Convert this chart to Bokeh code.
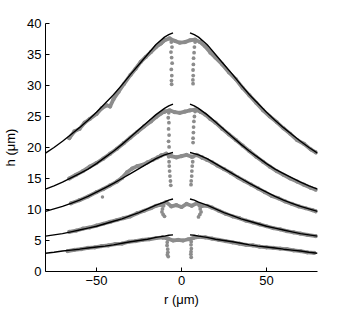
from bokeh.plotting import figure
from bokeh.embed import file_html
from bokeh.resources import INLINE
from bokeh.models import FixedTicker

# ---------------- data ----------------
x_ticks = [-50, 0, 50]
y_ticks = [0, 5, 10, 15, 20, 25, 30, 35, 40]
x_tick_labels = {-50: "\u221250", 0: "0", 50: "50"}

# fitted profiles (axisymmetric), r in µm, h in µm
r_fit = [5, 7.5, 10, 15, 20, 25, 30, 35, 40, 45, 50, 55, 60, 65, 70, 75, 80]
h_fit_5 = [38.5, 38.2, 37.8, 36.6, 35.0, 33.4, 31.8, 30.1, 28.5, 27.1, 25.7, 24.4, 23.2, 22.1, 21.0, 20.0, 19.1]
h_fit_4 = [27.0, 26.7, 26.3, 25.3, 24.1, 22.9, 21.7, 20.5, 19.4, 18.4, 17.4, 16.5, 15.8, 15.1, 14.4, 13.8, 13.3]
h_fit_3 = [19.2, 19.0, 18.8, 18.2, 17.4, 16.6, 15.8, 15.0, 14.2, 13.5, 12.8, 12.1, 11.5, 11.0, 10.5, 10.1, 9.7]
h_fit_2 = [11.7, 11.5, 11.2, 10.7, 10.1, 9.5, 9.0, 8.5, 8.1, 7.7, 7.3, 7.0, 6.7, 6.4, 6.1, 5.9, 5.7]
h_fit_1 = [5.9, 5.85, 5.7, 5.5, 5.2, 5.0, 4.8, 4.55, 4.3, 4.1, 3.95, 3.8, 3.6, 3.45, 3.3, 3.1, 2.95]
fits = [h_fit_1, h_fit_2, h_fit_3, h_fit_4, h_fit_5]

# measured profiles (gray) along the surface: list of (r list, h list)
meas_5 = [
    ([-66, -63, -60, -57, -54, -50, -47, -44, -42, -40, -37, -34, -30, -27, -24, -21, -18, -15, -12, -10],
     [21.5, 22.6, 23.0, 24.0, 24.6, 25.4, 26.3, 26.8, 26.6, 27.8, 29.0, 30.2, 31.7, 32.7, 33.8, 34.6, 35.4, 36.2, 36.8, 37.3]),
    ([-10, -7, -4, -1, 2, 5, 8, 11],
     [37.3, 37.6, 37.2, 36.9, 37.0, 37.3, 37.4, 37.0]),
    ([11, 14, 17, 20, 24, 28, 32, 36, 40, 44, 48, 52, 56, 60, 64, 68, 72, 76, 79],
     [37.0, 36.3, 35.3, 34.5, 33.4, 32.1, 31.0, 29.6, 28.4, 27.2, 26.0, 25.0, 24.1, 23.1, 22.2, 21.2, 20.6, 19.7, 19.2]),
]
meas_4 = [
    ([-66, -62, -58, -54, -50, -46, -42, -38, -34, -30, -26, -22, -18, -15, -12, -10],
     [15.0, 15.6, 16.2, 16.9, 17.5, 18.2, 19.0, 19.8, 20.7, 21.6, 22.5, 23.4, 24.2, 24.9, 25.5, 25.8]),
    ([-10, -7, -4, -1, 2, 5, 8, 11],
     [25.8, 26.0, 25.7, 25.6, 25.8, 26.0, 26.1, 25.8]),
    ([11, 14, 17, 20, 24, 28, 32, 36, 40, 44, 48, 52, 56, 60, 64, 68, 72, 76, 79],
     [25.8, 25.3, 24.6, 24.0, 23.0, 22.1, 21.2, 20.3, 19.4, 18.5, 17.7, 16.9, 16.2, 15.6, 15.0, 14.5, 14.0, 13.5, 13.2]),
]
meas_3 = [
    ([-65, -60, -55, -50, -46, -42, -38, -35, -32, -29, -26, -23, -20, -17, -14, -12],
     [11.0, 11.5, 12.1, 12.8, 13.3, 13.9, 14.5, 15.1, 16.0, 16.6, 17.0, 17.2, 17.6, 18.0, 18.4, 18.7]),
    ([-12, -9, -6, -3, 0, 3, 6, 9, 12],
     [18.7, 19.0, 18.6, 18.4, 18.6, 18.8, 18.5, 18.8, 18.4]),
    ([12, 15, 18, 21, 25, 29, 33, 37, 41, 45, 49, 53, 57, 61, 65, 69, 73, 77, 79],
     [18.4, 18.0, 17.6, 17.1, 16.5, 15.9, 15.2, 14.6, 14.0, 13.4, 12.8, 12.2, 11.8, 11.3, 10.9, 10.5, 10.2, 9.9, 9.7]),
]
meas_2 = [
    ([-66, -62, -58, -54, -50, -46, -42, -38, -34, -30, -26, -22, -18, -15, -12],
     [6.4, 6.6, 6.9, 7.1, 7.4, 7.7, 8.0, 8.3, 8.6, 8.9, 9.4, 9.8, 10.2, 10.6, 10.8]),
    ([-12, -9, -6, -3, 0, 3, 6, 9, 12],
     [10.8, 11.2, 10.5, 10.7, 10.4, 10.9, 10.6, 11.0, 10.6]),
    ([12, 15, 18, 22, 26, 30, 34, 38, 42, 46, 50, 54, 58, 62, 66, 70, 74, 79],
     [10.6, 10.6, 10.3, 9.8, 9.3, 8.9, 8.6, 8.2, 7.9, 7.6, 7.3, 7.0, 6.8, 6.5, 6.3, 6.1, 5.9, 5.7]),
]
meas_1 = [
    ([-67, -63, -59, -55, -51, -47, -43, -39, -35, -31, -27, -23, -19, -15, -11],
     [3.3, 3.5, 3.6, 3.8, 3.9, 4.1, 4.2, 4.4, 4.5, 4.8, 4.9, 5.1, 5.2, 5.4, 5.5]),
    ([-11, -8, -5, -2, 1, 4, 7, 10],
     [5.5, 5.3, 5.0, 5.1, 5.0, 5.2, 5.4, 5.6]),
    ([10, 14, 18, 22, 26, 30, 34, 38, 42, 46, 50, 54, 58, 62, 66, 70, 74, 78],
     [5.6, 5.5, 5.3, 5.1, 4.9, 4.7, 4.5, 4.3, 4.2, 4.0, 3.9, 3.8, 3.7, 3.6, 3.4, 3.3, 3.1, 3.0]),
]
measured = [meas_1, meas_2, meas_3, meas_4, meas_5]

# measured points hanging below the central plateau (dotted "drips")
drip_r = [
    -6.0, -5.6, -6.2, -5.8, -5.5, -6.0, -5.7, -5.9, -5.8,
    8.0, 7.6, 7.4, 7.1, 7.0, 6.8, 6.9, 6.7, 6.8,
    -7.5, -7.8, -7.4, -7.6, -7.3, -7.6, -7.3,
    8.0, 7.6, 7.3, 7.1, 7.0, 6.8, 6.8,
    -7.5, -7.3, -7.2, -7.0, -6.8, -6.5, -6.3,
    6.8, 6.6, 6.3, 6.1, 6.0, 5.7, 5.6,
    -10.5, -11.2, -11.5, -10.8, -10.0, 10.5, 11.0, 11.5, 10.8, 10.0,
    -8.0, -8.4, -8.5, -8.1, -8.0, -8.3, -7.8,
    6.0, 5.7, 5.6, 5.8, 5.6, 5.5, 5.7,
]
drip_h = [
    37.0, 36.2, 35.4, 34.5, 33.6, 32.6, 31.6, 30.8, 30.2,
    37.0, 36.2, 35.3, 34.4, 33.4, 32.5, 31.6, 30.9, 30.3,
    25.6, 24.8, 24.0, 23.0, 22.0, 21.0, 20.1,
    25.8, 25.0, 24.2, 23.3, 22.4, 21.5, 20.8,
    18.5, 17.7, 17.0, 16.2, 15.4, 14.6, 13.9,
    18.5, 17.7, 17.0, 16.2, 15.4, 14.6, 14.0,
    10.6, 10.1, 9.6, 9.2, 8.9, 10.6, 10.1, 9.6, 9.2, 8.8,
    5.2, 4.7, 4.2, 3.6, 3.1, 2.7, 2.4,
    5.3, 4.8, 4.3, 3.7, 3.2, 2.8, 2.3,
]
outlier_r = [-46.5]
outlier_h = [12.0]

# ---------------- figure ----------------
FONT = "Liberation Sans"
GRAY = "#8c8c8c"

p = figure(
    output_backend="svg", toolbar_location=None,
    frame_width=272, frame_height=248,
    min_border_left=45, min_border_right=20, min_border_top=23, min_border_bottom=30,
    x_range=(-80, 80), y_range=(0, 40),
    background_fill_color="white", border_fill_color="white",
)
p.outline_line_color = None
p.grid.visible = False

for segs in measured:
    for rs, hs in segs:
        p.line(rs, hs, line_color=GRAY, line_width=3.8, line_cap="round", line_join="round")
        p.scatter(rs, hs, size=4.2, fill_color=GRAY, line_color=None)
p.scatter(drip_r, drip_h, size=3.8, fill_color=GRAY, line_color=None)
p.scatter(outlier_r, outlier_h, size=3.5, fill_color=GRAY, line_color=None)

r_left = [-r for r in r_fit]
for hs in fits:
    p.line(r_left, hs, line_color="black", line_width=1.4)
    p.line(r_fit, hs, line_color="black", line_width=1.4)

for ax in (p.xaxis[0], p.yaxis[0]):
    ax.axis_line_color = "black"
    ax.axis_line_width = 1
    ax.major_tick_in = 4
    ax.major_tick_out = 0
    ax.minor_tick_line_color = None
    ax.major_tick_line_color = "black"
    ax.major_label_text_font = FONT
    ax.major_label_text_font_size = "13px"
    ax.major_label_text_color = "black"
    ax.axis_label_text_font = FONT
    ax.axis_label_text_font_size = "13px"
    ax.axis_label_text_font_style = "normal"
    ax.axis_label_text_color = "black"

p.xaxis[0].ticker = FixedTicker(ticks=x_ticks)
p.xaxis[0].major_label_overrides = x_tick_labels
p.xaxis[0].axis_label = "r (\u03bcm)"
p.xaxis[0].major_label_standoff = 4
p.xaxis[0].axis_label_standoff = 4

p.yaxis[0].ticker = FixedTicker(ticks=y_ticks)
p.yaxis[0].axis_label = "h (\u03bcm)"
p.yaxis[0].major_label_standoff = 4
p.yaxis[0].axis_label_standoff = 6

open("out.html", "w").write(file_html(p, INLINE))
